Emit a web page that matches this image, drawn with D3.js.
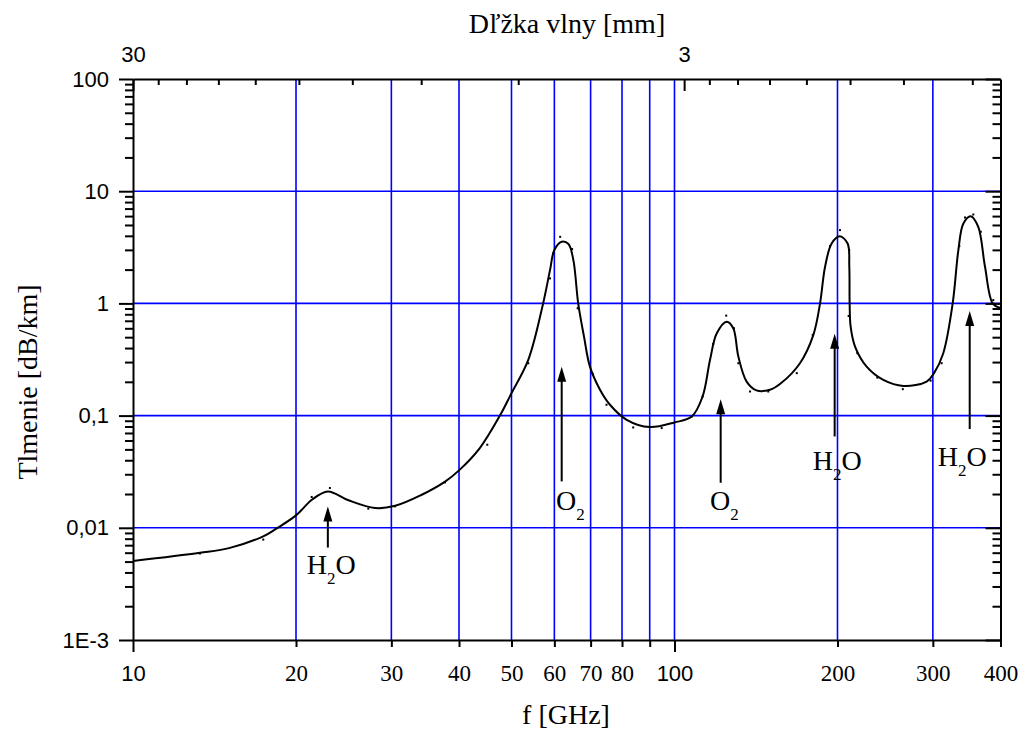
<!DOCTYPE html>
<html>
<head>
<meta charset="utf-8">
<script src="https://cdn.jsdelivr.net/npm/d3@7"></script>
<style>
  html, body { margin: 0; padding: 0; background: #fff; }
  svg { display: block; }
</style>
</head>
<body>
<svg id="chart" width="1026" height="730"></svg>
<script>
// ---------------- DATA ----------------
// smooth fitted curve (frequency in GHz, attenuation in dB/km)
const curveFreq = [10, 13.3, 15.1, 17.4, 18.4, 20, 21.4, 22.9, 25, 28, 30.5, 34, 37.7, 40, 43.7, 47.6, 50, 53.7,
  57.2, 58.9, 60.0, 61.9, 63.7, 65.05, 66.4, 68.06, 69.8, 72.85, 76.0, 81.6, 90, 100, 107.6, 112.7,
  116.3, 119.7, 124.9, 128.4, 131.2, 135.9, 141.7, 150.1, 157.0, 170.5, 180.5, 185.7, 189.7, 195.1,
  202, 208.8, 210.3, 210.6, 211.5, 215.5, 226.4, 243, 264.6, 292.2, 301.5, 313.6, 326.4, 334.4,
  341.6, 352.4, 363.9, 374.5, 387, 400];
const curveAtten = [0.00506, 0.00598, 0.00662, 0.0084, 0.00984, 0.0129, 0.0178, 0.0211, 0.0176, 0.0150, 0.0157,
  0.0195, 0.0258, 0.0325, 0.0514, 0.100, 0.1585, 0.314,
  1.0, 1.98, 2.99, 3.54, 3.38, 2.43, 1.0, 0.506, 0.273, 0.17, 0.125, 0.0918, 0.079, 0.0869, 0.098, 0.148,
  0.313, 0.542, 0.687, 0.60, 0.336, 0.201, 0.168, 0.170, 0.193, 0.293, 0.524, 1.0, 2.12, 3.42,
  3.96, 3.42, 2.12, 1.0, 0.62, 0.412, 0.273, 0.208, 0.184, 0.201, 0.239, 0.36, 1.0, 2.99,
  5.16, 5.99, 4.81, 2.12, 1.0, 0.91];

// measured data points
const pointFreq = [13.29, 17.4, 21.38, 23.1, 27.2, 30.46, 37.69, 45.11, 53.7, 58.9, 59.7, 61.5, 64.7,
  66.25, 70.6, 74.9, 83.9, 94.7, 107.6, 112.7, 117.9, 124.6, 128.8, 131.2, 137.9, 149, 168.2, 180,
  193.7, 202.1, 210.2, 209.7, 217.6, 236.9, 264, 297.2, 311.4, 335.7, 344, 356.3, 367.8, 387.9];
const pointAtten = [0.0059, 0.00785, 0.01884, 0.02265, 0.01482, 0.01553, 0.0254, 0.055, 0.293, 1.67, 2.79, 3.92, 3.05,
  0.905, 0.236, 0.125, 0.0784, 0.0774, 0.0982, 0.148, 0.435, 0.778, 0.60, 0.293, 0.164, 0.164, 0.239, 0.524,
  3.24, 4.5, 2.99, 0.773, 0.36, 0.218, 0.172, 0.205, 0.293, 3.24, 5.83, 6.2, 4.35, 1.07];

// absorption-line annotations
const annFreq     = [22.9, 61.9, 121.7, 197.6, 350.9];
const annTip      = [0.0155, 0.273, 0.140, 0.537, 0.856];
const annBase     = [0.00667, 0.0259, 0.0252, 0.0652, 0.0759];
const annMolecule = ["H2O", "O2", "O2", "H2O", "H2O"];
const annLabelF   = [20.93, 60.4, 116.3, 180.0, 306.2];
const annLabelV   = [0.00389, 0.01452, 0.01452, 0.03248, 0.03526];

// axis ticks
const xMajorTicks = [10, 100];
const xMinorTicks = [20, 30, 40, 50, 60, 70, 80, 90, 200, 300, 400];
const xMinorLabels = ["20", "30", "40", "50", "60", "70", "80", "", "200", "300", "400"];
const xGrid = [20, 30, 40, 50, 60, 70, 80, 90, 100, 200, 300];
const yMajorTicks = [100, 10, 1, 0.1, 0.01, 0.001];
const yMajorLabels = ["100", "10", "1", "0,1", "0,01", "1E-3"];
const yGrid = [10, 1, 0.1, 0.01];
const topMajorTicks = [30, 3];
const topMajorLabels = ["30", "3"];
const topMinorTicks = [27, 24, 21, 18, 15, 12, 9, 6, 2.7, 2.4, 2.1, 1.8, 1.5, 1.2, 0.9];

const xTitle = "f [GHz]";
const yTitle = "Tlmenie [dB/km]";
const topTitle = "Dľžka vlny [mm]";

// ---------------- LAYOUT ----------------
const L = 133, R = 1000.5, T = 79, B = 640;
const SANS = "'Liberation Sans', Arial, sans-serif";
const SERIF = "'Liberation Serif', 'Times New Roman', serif";

const svg = d3.select("#chart");
svg.append("rect").attr("width", 1026).attr("height", 730).attr("fill", "#fff");

const x = d3.scaleLog().domain([10, 400]).range([L, R]);
const y = d3.scaleLog().domain([0.001, 100]).range([B, T]);
const xTop = d3.scaleLog().domain([30, 0.8]).range([L, R]);

// grid
const grid = svg.append("g");
grid.selectAll("line.gx").data(xGrid).join("line")
  .attr("x1", d => x(d)).attr("x2", d => x(d)).attr("y1", T).attr("y2", B)
  .attr("stroke", "#0000ff").attr("stroke-width", 1.6);
grid.selectAll("line.gy").data(yGrid).join("line")
  .attr("y1", d => y(d)).attr("y2", d => y(d)).attr("x1", L).attr("x2", R)
  .attr("stroke", "#0000ff").attr("stroke-width", 1.6);

// curve
const curveData = curveFreq.map((f, i) => ({ f, v: curveAtten[i] }));
const line = d3.line().x(d => x(d.f)).y(d => y(d.v)).curve(d3.curveCatmullRom.alpha(0.5));
svg.append("path").datum(curveData).attr("d", line)
  .attr("fill", "none").attr("stroke", "#000").attr("stroke-width", 2)
  .attr("stroke-linejoin", "round");

// points
const pts = pointFreq.map((f, i) => ({ f, v: pointAtten[i] }));
svg.append("g").selectAll("rect").data(pts).join("rect")
  .attr("x", d => x(d.f) - 1).attr("y", d => y(d.v) - 1)
  .attr("width", 2).attr("height", 2).attr("fill", "#000");

// annotations
const ann = annFreq.map((f, i) => ({ f, tip: annTip[i], base: annBase[i], mol: annMolecule[i],
  lf: annLabelF[i], lv: annLabelV[i] }));
const ag = svg.append("g");
ag.selectAll("line").data(ann).join("line")
  .attr("x1", d => x(d.f)).attr("x2", d => x(d.f))
  .attr("y1", d => y(d.base)).attr("y2", d => y(d.tip) + 10)
  .attr("stroke", "#000").attr("stroke-width", 2);
ag.selectAll("path").data(ann).join("path")
  .attr("d", d => {
    const cx = x(d.f), ty = y(d.tip);
    return `M${cx},${ty}L${cx - 4.5},${ty + 15}L${cx + 4.5},${ty + 15}Z`;
  })
  .attr("fill", "#000");
const lbl = ag.selectAll("text").data(ann).join("text")
  .attr("x", d => x(d.lf)).attr("y", d => y(d.lv))
  .attr("font-family", SERIF).attr("font-size", 28).attr("fill", "#000");
lbl.each(function(d) {
  const t = d3.select(this);
  t.append("tspan").text(d.mol[0]);
  t.append("tspan").attr("font-size", 17).attr("dy", 10).text("2");
  if (d.mol.length > 2) t.append("tspan").attr("dy", -10).text(d.mol.slice(2));
});

// axes
function styleAxis(g, font, size) {
  g.attr("font-family", font).attr("font-size", size);
  g.selectAll("line").attr("stroke", "#000").attr("stroke-width", 2);
  g.selectAll("path.domain").attr("stroke", "#000").attr("stroke-width", 2);
  g.selectAll("text").attr("fill", "#000");
}

// bottom
const gb1 = svg.append("g").attr("transform", `translate(0,${B})`)
  .call(d3.axisBottom(x).tickValues(xMinorTicks).tickSize(7).tickSizeOuter(0).tickPadding(18)
    .tickFormat((d, i) => xMinorLabels[i]));
styleAxis(gb1, SERIF, 23);
gb1.selectAll("text").attr("dy", "0.71em");
const gb2 = svg.append("g").attr("transform", `translate(0,${B})`)
  .call(d3.axisBottom(x).tickValues(xMajorTicks).tickSize(12).tickSizeOuter(0).tickPadding(13)
    .tickFormat(d => d3.format("d")(d)));
styleAxis(gb2, SANS, 22);
gb2.select("path.domain").remove();

// left
const yMinor = [];
[0.001, 0.01, 0.1, 1, 10].forEach(p => { for (let k = 2; k <= 9; k++) yMinor.push(p * k); });
const gl1 = svg.append("g").attr("transform", `translate(${L},0)`)
  .call(d3.axisLeft(y).tickValues(yMinor).tickSize(8).tickSizeOuter(0).tickFormat(""));
styleAxis(gl1, SANS, 22);
const gl2 = svg.append("g").attr("transform", `translate(${L},0)`)
  .call(d3.axisLeft(y).tickValues(yMajorTicks).tickSize(14).tickSizeOuter(0).tickPadding(10)
    .tickFormat((d, i) => yMajorLabels[i]));
styleAxis(gl2, SANS, 22);
gl2.select("path.domain").remove();

// right (inward ticks)
const gr1 = svg.append("g").attr("transform", `translate(${R},0)`)
  .call(d3.axisRight(y).tickValues(yMinor).tickSize(-8).tickSizeOuter(0).tickFormat(""));
styleAxis(gr1, SANS, 22);
const gr2 = svg.append("g").attr("transform", `translate(${R},0)`)
  .call(d3.axisRight(y).tickValues(yMajorTicks).tickSize(-15).tickSizeOuter(0).tickFormat(""));
styleAxis(gr2, SANS, 22);
gr2.select("path.domain").remove();

// top (wavelength, inward ticks)
const gt1 = svg.append("g").attr("transform", `translate(0,${T})`)
  .call(d3.axisTop(xTop).tickValues(topMinorTicks).tickSize(-6).tickSizeOuter(0).tickFormat(""));
styleAxis(gt1, SANS, 22);
const gt2 = svg.append("g").attr("transform", `translate(0,${T})`)
  .call(d3.axisTop(xTop).tickValues(topMajorTicks).tickSize(-12).tickSizeOuter(0).tickPadding(17)
    .tickFormat((d, i) => topMajorLabels[i]));
styleAxis(gt2, SANS, 22);
gt2.select("path.domain").remove();
gt2.selectAll("text").attr("dy", "0");

// titles
svg.append("text").attr("x", 567).attr("y", 33).attr("text-anchor", "middle")
  .attr("font-family", SERIF).attr("font-size", 28).text(topTitle);
svg.append("text").attr("x", 566).attr("y", 724).attr("text-anchor", "middle")
  .attr("font-family", SERIF).attr("font-size", 28).text(xTitle);
svg.append("text").attr("transform", `translate(37,382) rotate(-90)`).attr("text-anchor", "middle")
  .attr("font-family", SERIF).attr("font-size", 28).text(yTitle);
</script>
</body>
</html>
